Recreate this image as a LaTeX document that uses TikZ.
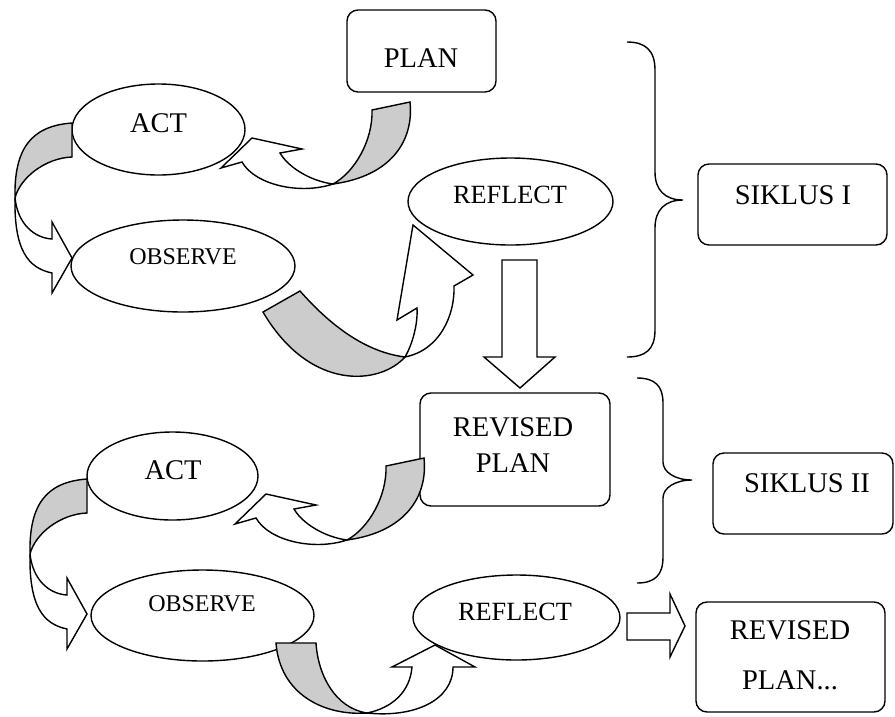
\documentclass[tikz,border=0pt]{standalone}
\usepackage{fontspec}
\setmainfont{Liberation Serif}
\usetikzlibrary{shapes.geometric}
\definecolor{bandgray}{RGB}{204,204,204}
\begin{document}
\begin{tikzpicture}[x=1pt,y=-1pt,
  ln/.style={line width=1.4pt, line join=miter},
  back/.style={ln, draw=black, fill=bandgray},
  front/.style={ln, draw=black, fill=white},
  ell/.style={ellipse, draw, ln, fill=white, inner sep=0pt},
  bx/.style={rectangle, rounded corners=11pt, draw, ln, fill=white, inner sep=0pt},
  big/.style={font=\fontsize{28.5}{30}\selectfont, inner sep=0pt},
  mid/.style={font=\fontsize{26.3}{28}\selectfont, inner sep=0pt},
  small/.style={font=\fontsize{24}{26}\selectfont, inner sep=0pt},
  bracestyle/.style={ln, draw}
]
\useasboundingbox (0,0) rectangle (895,716);

% ---------- ellipses ----------
\node[ell, minimum width=173pt, minimum height=91pt] (act1) at (158.5,129.5) {};
\node[ell, minimum width=224pt, minimum height=92pt] (obs1) at (183,266) {};
\node[ell, minimum width=205pt, minimum height=87pt] (ref1) at (510.5,201.5) {};
\node[ell, minimum width=171pt, minimum height=88pt] (act2) at (172.5,476) {};
\node[ell, minimum width=223pt, minimum height=91pt] (obs2) at (202.5,615.5) {};
\node[ell, minimum width=207pt, minimum height=85pt] (ref2) at (516.5,617.5) {};

% ---------- boxes ----------
\node[bx, minimum width=149pt, minimum height=82pt] (plan) at (421.5,51) {};
\node[bx, minimum width=189pt, minimum height=81pt] (sik1) at (792.5,204.5) {};
\node[bx, minimum width=190pt, minimum height=113pt] (rplan) at (515,449.5) {};
\node[bx, minimum width=180pt, minimum height=81pt] (sik2) at (803,493.5) {};
\node[bx, minimum width=189pt, minimum height=110pt] (rplan2) at (790.5,657) {};

% ---------- texts ----------
\node[big] (tplan) at (421,58) {PLAN};
\node[big] (tact1) at (158.5,123) {ACT};
\node[small] (tobs1) at (183,257) {OBSERVE};
\node[mid] (tref1) at (510,195) {REFLECT};
\node[big] (tsik1) at (793,195) {SIKLUS I};
\node[big, align=center, font=\fontsize{28.5}{36}\selectfont] (trplan) at (513,445) {REVISED\\PLAN};
\node[big] (tsik2) at (807,483) {SIKLUS II};
\node[big] (tact2) at (173,470) {ACT};
\node[small] (tobs2) at (202,604) {OBSERVE};
\node[mid] (tref2) at (515,612) {REFLECT};
\node[big, align=center, font=\fontsize{28.5}{50}\selectfont] (trplan2) at (790,655) {REVISED\\PLAN...};

% ---------- curved ribbon arrows: PLAN -> ACT ----------
\foreach \dx/\dy in {0/0, 14/356}{
\begin{scope}[shift={(\dx,\dy)}]
\path[back] (372,110) -- (410,102) .. controls (414,140) and (392,176) .. (333,184)
   .. controls (355,172) and (373,140) .. (372,110) -- cycle;
\path[front] (333,184) .. controls (300,195) and (255,185) .. (242,162) -- (221,168)
   -- (252,138) -- (302,149) -- (280,153) .. controls (288,167) and (310,181) .. (333,184) -- cycle;
\end{scope}}

% ---------- curved ribbon arrows: ACT -> OBSERVE ----------
\foreach \dx/\dy in {0/0, 15/356}{
\begin{scope}[shift={(\dx,\dy)}]
\path[back] (72,123) .. controls (30,126) and (14,150) .. (15,198)
   .. controls (20,178) and (45,158) .. (72,157) -- cycle;
\path[front] (15,198) .. controls (18,225) and (35,238) .. (52,239) -- (52,222) -- (72,258)
   -- (52,293) -- (52,273) .. controls (28,268) and (14,250) .. (15,198) -- cycle;
\end{scope}}

% ---------- OBSERVE -> REFLECT (cycle I) ----------
\path[back] (263,312) -- (300,291) .. controls (330,325) and (365,352) .. (405,357)
   .. controls (380,385) and (310,392) .. (263,312) -- cycle;
\path[front] (405,357) .. controls (412,345) and (418,325) .. (417,308) -- (397,320) -- (413,225)
   -- (473,275) -- (454,286) .. controls (455,315) and (440,350) .. (405,357) -- cycle;

% ---------- OBSERVE -> REFLECT (cycle II) ----------
\path[back] (276,643) -- (316,643) .. controls (318,675) and (335,708) .. (367,713)
   .. controls (325,716) and (280,695) .. (276,643) -- cycle;
\path[front] (367,713) .. controls (392,708) and (410,692) .. (412,667) -- (392,667) -- (435,645)
   -- (475,667) -- (453,667) .. controls (453,700) and (415,718) .. (367,713) -- cycle;

% ---------- block arrows ----------
\path[front] (502,260) -- (537,260) -- (537,357) -- (555,357) -- (520,388) -- (484,357) -- (502,357) -- cycle;
\path[front] (627,613) -- (670,613) -- (670,594) -- (685,626) -- (670,657) -- (670,640) -- (627,640) -- cycle;

% ---------- braces ----------
\draw[bracestyle] (627,42) .. controls (645,42) and (655,50) .. (655,70) -- (655,172)
   .. controls (655,190) and (665,200) .. (683,200) .. controls (665,200) and (655,210) .. (655,228)
   -- (655,330) .. controls (655,350) and (645,357) .. (627,357);
\draw[bracestyle] (637,378) .. controls (655,378) and (663,386) .. (663,403) -- (663,462)
   .. controls (663,472) and (675,480) .. (692,480) .. controls (675,480) and (663,488) .. (663,498)
   -- (663,557) .. controls (663,575) and (655,583) .. (637,583);

\end{tikzpicture}
\end{document}
